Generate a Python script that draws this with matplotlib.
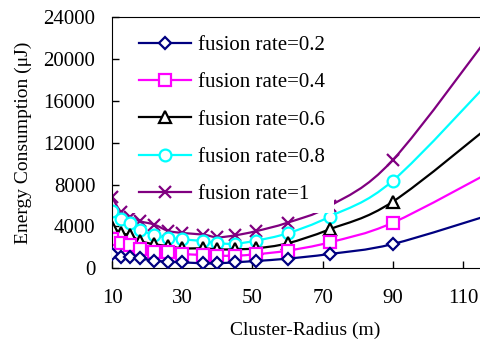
import matplotlib
matplotlib.use("Agg")
import matplotlib.pyplot as plt
from matplotlib.path import Path
from matplotlib.patches import PathPatch
from matplotlib.lines import Line2D

plt.rcParams['font.family'] = ['Liberation Serif', 'DejaVu Serif']

# cluster radius (m); the right end of the axis is cut off by the figure edge
radius = [10, 12.5, 15, 18, 22, 26, 30, 36, 40, 45, 51, 60, 72, 90, 120]

# energy consumption (uJ)
e_02 = [1370, 1115, 1115, 956, 733, 637, 574, 478, 478, 574, 701, 924, 1370, 2323, 5350]
e_04 = [2770, 2390, 2230, 1815, 1595, 1530, 1370, 1275, 1210, 1210, 1340, 1690, 2485, 4360, 9600]
e_06 = [3980, 3350, 3190, 2610, 2295, 2135, 1910, 1910, 1815, 1815, 1910, 2390, 3730, 6370, 14250]
e_08 = [5500, 4700, 4300, 3665, 3190, 2900, 2770, 2600, 2400, 2350, 2645, 3350, 4940, 8376, 18730]
e_10 = [6800, 5400, 4950, 4500, 4180, 3580, 3380, 3220, 2965, 3150, 3550, 4365, 5950, 10355, 23370]

labels = ['fusion rate=0.2', 'fusion rate=0.4', 'fusion rate=0.6',
          'fusion rate=0.8', 'fusion rate=1']
colors = ['#000080', '#FF00FF', '#000000', '#00FFFF', '#800080']
markers = ['D', 's', '^', 'o', 'x']
msizes = [6.5, 8, 8.5, 8.5, 9]
series = [e_02, e_04, e_06, e_08, e_10]


def smooth_path(xs, ys):
    # excel-like smoothed line: catmull-rom segments as cubic beziers
    pts = list(zip(xs, ys))
    n = len(pts)
    verts = [pts[0]]
    codes = [Path.MOVETO]
    for i in range(n - 1):
        p0 = pts[max(i - 1, 0)]
        p1 = pts[i]
        p2 = pts[i + 1]
        p3 = pts[min(i + 2, n - 1)]
        c1 = (p1[0] + (p2[0] - p0[0]) / 6, p1[1] + (p2[1] - p0[1]) / 6)
        c2 = (p2[0] - (p3[0] - p1[0]) / 6, p2[1] - (p3[1] - p1[1]) / 6)
        verts += [c1, c2, p2]
        codes += [Path.CURVE4] * 3
    return Path(verts, codes)


fig = plt.figure(figsize=(4.81, 3.5), dpi=100)
# axes run a bit past the right edge of the picture, as in the original crop
ax = fig.add_axes([0.233, 0.2334, 0.8025, 0.7172])

handles = []
# highest fusion rate drawn first, so lower series' markers sit on top
for k in range(len(series) - 1, -1, -1):
    ys, col, mk, ms = series[k], colors[k], markers[k], msizes[k]
    z = 2 + (len(series) - k) * 0.1
    ax.add_patch(PathPatch(smooth_path(radius, ys), facecolor='none',
                           edgecolor=col, lw=1.6, zorder=z))
    ax.plot(radius, ys, linestyle='none', marker=mk, ms=ms, mfc='white',
            mec=col, mew=1.6, zorder=z + 0.05)

for lab, col, mk, ms in zip(labels, colors, markers, msizes):
    handles.append(Line2D([], [], color=col, lw=1.6, marker=mk, ms=ms,
                          mfc='white', mec=col, mew=1.6, label=lab))

ax.set_xlim(10, 120)
ax.set_ylim(0, 24000)
ax.set_xticks([10, 30, 50, 70, 90, 110])
ax.set_yticks(range(0, 24001, 4000))
ax.tick_params(direction='in', length=5, width=1, labelsize=15)
ax.tick_params(axis='x', pad=15)
ax.tick_params(axis='y', pad=12)

ax.set_xlabel('Cluster-Radius (m)', fontsize=14, labelpad=10)
ax.set_ylabel('Energy Consumption (\u03bcJ)', fontsize=14, labelpad=8)

leg = ax.legend(handles=handles, loc='upper left', fontsize=15,
                frameon=True, fancybox=False, edgecolor='none',
                facecolor='white', framealpha=1, handlelength=2.5,
                handletextpad=0.35, labelspacing=0.85,
                bbox_to_anchor=(0.016, 1.01), borderaxespad=0.6)
leg.set_zorder(5)

fig.savefig('out.png', dpi=100)
